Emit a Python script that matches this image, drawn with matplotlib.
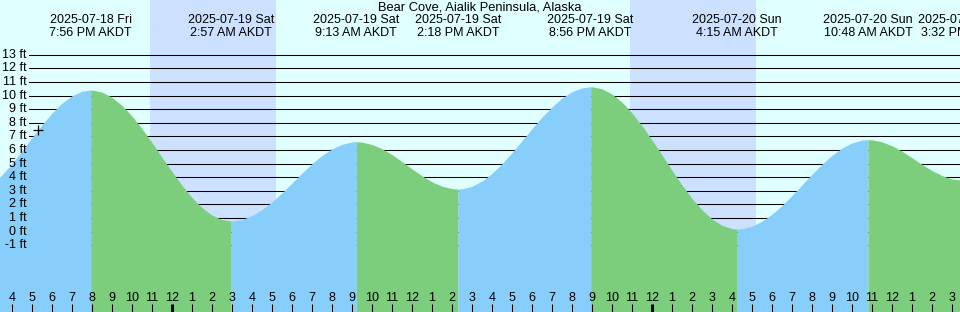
import numpy as np
import pandas as pd
import matplotlib
matplotlib.use("Agg")
import matplotlib.pyplot as plt
import matplotlib.dates as mdates

plt.rcParams['font.family'] = ['Liberation Sans', 'DejaVu Sans']

station = "Bear Cove, Aialik Peninsula, Alaska"

# tide height (ft) every 30 minutes, starting 2025-07-18 15:00
sample_start = "2025-07-18 15:00"
heights = [
    3.49, 4.17, 5.00, 5.94, 6.91, 7.85, 8.72, 9.45, 9.99, 10.32,
    10.41, 10.26, 9.87, 9.27, 8.49, 7.57, 6.54, 5.47, 4.41, 3.40, 2.50, 1.76, 1.21, 0.88,
    0.78, 0.89, 1.18, 1.62, 2.19, 2.85, 3.57, 4.30, 4.99, 5.60, 6.08, 6.42, 6.59,
    6.58, 6.41, 6.09, 5.66, 5.15, 4.61, 4.10, 3.66, 3.34, 3.16,
    3.15, 3.33, 3.72, 4.28, 4.99, 5.81, 6.68, 7.57, 8.42, 9.18, 9.82, 10.29, 10.57,
    10.65, 10.50, 10.11, 9.52, 8.72, 7.78, 6.73, 5.63, 4.51, 3.43, 2.44, 1.60, 0.92, 0.46, 0.22,
    0.21, 0.40, 0.77, 1.28, 1.92, 2.66, 3.44, 4.22, 4.96, 5.61, 6.14, 6.52, 6.73,
    6.75, 6.60, 6.31, 5.91, 5.43, 4.94, 4.49, 4.12, 3.87, 3.78,
]

# highs / lows
ext_times = ["2025-07-18 19:56", "2025-07-19 02:57", "2025-07-19 09:13", "2025-07-19 14:18",
             "2025-07-19 20:56", "2025-07-20 04:15", "2025-07-20 10:48", "2025-07-20 15:32"]
ext_heights = [10.41, 0.78, 6.61, 3.13, 10.65, 0.19, 6.76, 3.78]
ext_kind = ["H", "L", "H", "L", "H", "L", "H", "L"]
ext_day = ["2025-07-18 Fri", "2025-07-19 Sat", "2025-07-19 Sat", "2025-07-19 Sat",
           "2025-07-19 Sat", "2025-07-20 Sun", "2025-07-20 Sun", "2025-07-20 Sun"]
ext_clock = ["7:56 PM AKDT", "2:57 AM AKDT", "9:13 AM AKDT", "2:18 PM AKDT",
             "8:56 PM AKDT", "4:15 AM AKDT", "10:48 AM AKDT", "3:32 PM AKDT"]

nights = [("2025-07-18 22:54", "2025-07-19 05:12"),
          ("2025-07-19 22:54", "2025-07-20 05:12")]

now_time = "2025-07-18 17:17"
now_height = 7.47

ft_levels = list(range(13, -2, -1))

view_start = "2025-07-18 15:24"
view_end = "2025-07-20 15:24"

sky = "#e0ffff"
night_col = "#cce0ff"
rising_col = "#87cefa"
falling_col = "#7ccd7c"
fs = 9

t_samp = mdates.date2num(pd.date_range(sample_start, periods=len(heights), freq="30min"))
t_ext = mdates.date2num(pd.to_datetime(ext_times))
t_all = np.concatenate([t_samp, t_ext])
h_all = np.concatenate([heights, ext_heights])
order = np.argsort(t_all)
t_all = t_all[order]
h_all = h_all[order]

x0 = mdates.date2num(pd.Timestamp(view_start))
x1 = mdates.date2num(pd.Timestamp(view_end))
ybot, ytop = -5.91, 17.03

fig = plt.figure(figsize=(9.6, 3.12), dpi=100, facecolor=sky)
ax = fig.add_axes([0, 0, 1, 1])
ax.set_facecolor(sky)
ax.set_xlim(x0, x1)
ax.set_ylim(ybot, ytop)
ax.axis("off")

for a, b in nights:
    ax.axvspan(mdates.date2num(pd.Timestamp(a)), mdates.date2num(pd.Timestamp(b)),
               color=night_col, lw=0, zorder=0)

for lv in ft_levels:
    ax.axhline(lv, xmin=29 / 960, xmax=1, color="black", lw=0.75, zorder=1)

# fill between consecutive extrema, blue rising / green falling
bounds = [t_all[0]] + list(t_ext) + [t_all[-1]]
kinds = ext_kind + ["H" if ext_kind[-1] == "L" else "L"]
for i in range(len(bounds) - 1):
    m = (t_all >= bounds[i]) & (t_all <= bounds[i + 1])
    col = rising_col if kinds[i] == "H" else falling_col
    ax.fill_between(t_all[m], h_all[m], ybot, color=col, lw=0, zorder=2)

ax.plot(mdates.date2num(pd.Timestamp(now_time)), now_height, marker="+",
        color="black", ms=7, mew=0.9, zorder=4)

for lv in ft_levels:
    ax.text(26.7 / 960, lv, f"{lv} ft", transform=ax.get_yaxis_transform(),
            ha="right", va="center", fontsize=fs, zorder=4)

ax.text(0.5, 0.976, station, transform=ax.transAxes, ha="center", va="center",
        fontsize=fs + 0.3)
for t, d, c in zip(t_ext, ext_day, ext_clock):
    ax.text(t, 0.935, d, transform=ax.get_xaxis_transform(), ha="center", va="center",
            fontsize=fs, clip_on=False)
    ax.text(t, 0.893, c, transform=ax.get_xaxis_transform(), ha="center", va="center",
            fontsize=fs, clip_on=False)

hours = pd.date_range("2025-07-18 16:00", "2025-07-20 15:00", freq="h")
for ts in hours:
    x = mdates.date2num(ts)
    lw = 2.2 if ts.hour == 0 else 0.75
    ax.plot([x, x], [0, 0.025], transform=ax.get_xaxis_transform(), color="black",
            lw=lw, solid_capstyle="butt", zorder=4)
    ax.text(x, 0.046, str(ts.hour % 12 or 12), transform=ax.get_xaxis_transform(),
            ha="center", va="center", fontsize=fs, zorder=4)

fig.savefig("out.png", dpi=100, facecolor=sky)
